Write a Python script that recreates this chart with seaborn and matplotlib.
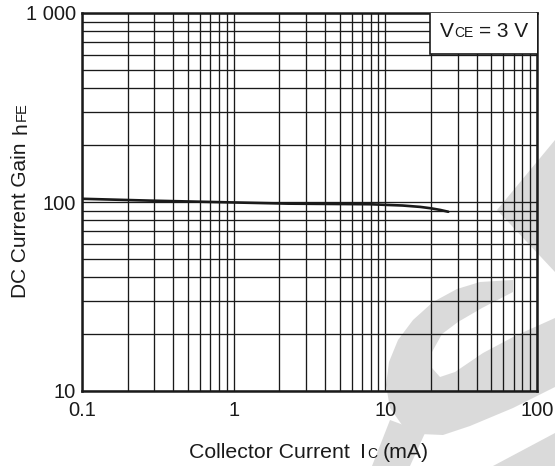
import matplotlib
matplotlib.use('Agg')
import matplotlib.pyplot as plt
import seaborn as sns
from matplotlib.patches import Polygon, Rectangle
from matplotlib.ticker import FixedLocator, LogLocator, NullFormatter

sns.set_style('white')
plt.rcParams['font.family'] = ['Liberation Sans', 'DejaVu Sans']

# hFE vs Ic, VCE = 3 V
ic_ma = [0.1, 0.28, 2.3, 7.9, 13, 17, 20, 23, 26]
hfe = [104, 101.7, 98, 97.3, 95.8, 94.2, 92.6, 90.8, 88.8]

x_ticks = [0.1, 1, 10, 100]
x_tick_labels = ['0.1', '1', '10', '100']
y_ticks = [10, 100, 1000]
y_tick_labels = ['10', '100', '1 000']

W, H = 555, 466
INK = '#1a1a1a'
fig = plt.figure(figsize=(W / 100, H / 100), dpi=100)


def px(x, y):
    return (x / W, 1 - y / H)


# faint logo watermark behind the chart
marks = [
    [(497, 210), (555, 140), (555, 272)],
    [(513, 280), (480, 282), (457, 289), (433, 302), (413, 320), (398, 340),
     (389, 362), (386, 385), (390, 408), (402, 425), (420, 434), (443, 435),
     (470, 426), (513, 408), (555, 387), (555, 318), (515, 336), (483, 353),
     (455, 372), (440, 377), (432, 368), (432, 352), (442, 334), (458, 322),
     (482, 308), (513, 292)],
    [(390, 420), (425, 433), (410, 466), (372, 466)],
    [(493, 466), (555, 433), (555, 466)],
]
for pts in marks:
    fig.patches.append(Polygon([px(*p) for p in pts], closed=True,
                               transform=fig.transFigure, facecolor='#dadada',
                               edgecolor='none', zorder=-1))

ax = fig.add_axes([82 / W, 1 - 391 / H, 455 / W, 378 / H])
ax.set_facecolor('none')

sns.lineplot(x=ic_ma, y=hfe, ax=ax, color=INK, linewidth=1.9, zorder=5)

ax.set_xscale('log')
ax.set_yscale('log')
ax.set_xlim(0.1, 100)
ax.set_ylim(10, 1000)

ax.xaxis.set_major_locator(FixedLocator(x_ticks))
ax.xaxis.set_ticklabels(x_tick_labels)
ax.yaxis.set_major_locator(FixedLocator(y_ticks))
ax.yaxis.set_ticklabels(y_tick_labels)
for axis in (ax.xaxis, ax.yaxis):
    axis.set_minor_locator(LogLocator(base=10, subs=range(2, 10)))
    axis.set_minor_formatter(NullFormatter())

ax.grid(True, which='both', color=INK, linewidth=0.95)
ax.tick_params(which='both', length=0, labelsize=14.5, colors=INK)
ax.tick_params(axis='x', pad=7.5)
ax.tick_params(axis='y', pad=4.5)
for s in ax.spines.values():
    s.set_color(INK)
    s.set_linewidth(1.8)

# condition box in the upper right corner
ax.add_patch(Rectangle(((430 - 82) / 455, (391 - 54) / 378), 1, 1,
                       transform=ax.transAxes, facecolor='white',
                       edgecolor=INK, linewidth=1.2, zorder=4, clip_on=True))

renderer = fig.canvas.get_renderer()


def put_pieces(x0, y0, pieces, vertical=False):
    # pieces share one baseline; smaller ones act as datasheet-style indices
    off = 0
    for txt, size, gap in pieces:
        off += gap
        x, y = (x0, y0 - off) if vertical else (x0 + off, y0)
        t = fig.text(*px(x, y), txt, fontsize=size, color=INK,
                     rotation=90 if vertical else 0, rotation_mode='anchor',
                     ha='left', va='baseline', zorder=6)
        bb = t.get_window_extent(renderer)
        off += bb.height if vertical else bb.width


put_pieces(26, 298, [('DC Current Gain', 15, 0), ('h', 15, 9), ('FE', 10.5, 1)],
           vertical=True)
put_pieces(189, 458, [('Collector Current', 15.3, 0), ('I', 15.3, 10),
                      ('C', 10, 1), ('(mA)', 15.3, 6)])
put_pieces(440, 37, [('V', 15, 0), ('CE', 10, 0.5), ('= 3 V', 15, 5)])

fig.savefig('out.png', dpi=100)
